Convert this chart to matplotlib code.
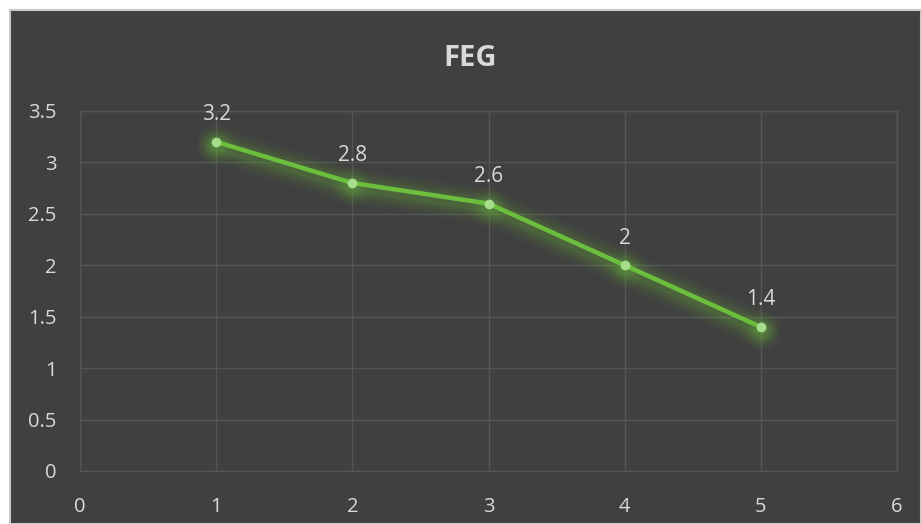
import matplotlib.pyplot as plt
import matplotlib.transforms as mtransforms
from matplotlib.patches import Rectangle

# FEG values per step
x_vals = [1, 2, 3, 4, 5]
feg = [3.2, 2.8, 2.6, 2.0, 1.4]
x_ticks = [0, 1, 2, 3, 4, 5, 6]
y_ticks = [0, 0.5, 1, 1.5, 2, 2.5, 3, 3.5]
y_tick_labels = ["0", "0.5", "1", "1.5", "2", "2.5", "3", "3.5"]
title = "FEG"

bg = "#404040"
grid_col = "#555555"
text_col = "#d9d9d9"
line_col = "#6cbf3c"
marker_col = "#a6dc8a"

plt.rcParams["font.family"] = ["Open Sans", "DejaVu Sans"]

fig = plt.figure(figsize=(9.21, 5.24), dpi=100, facecolor="white")
W, H = 921, 524
# dark chart area with thin light border
fig.add_artist(Rectangle((10 / W, 0), 1 - 10 / W, 1 - 10 / H,
                         transform=fig.transFigure, facecolor=bg,
                         edgecolor="#c8c8c8", linewidth=1.5, zorder=-10))

ax = fig.add_axes([80 / W, 1 - 471 / H, (897 - 80) / W, (471 - 111) / H])
ax.set_zorder(1)
ax.set_facecolor(bg)
ax.set_xlim(0, 6)
ax.set_ylim(0, 3.5)
ax.set_xticks(x_ticks)
ax.set_yticks(y_ticks)
ax.set_yticklabels(y_tick_labels)
ax.grid(True, color=grid_col, linewidth=1.0)
ax.set_axisbelow(True)
for s in ax.spines.values():
    s.set_color(grid_col)
    s.set_linewidth(1.0)
ax.tick_params(axis="both", length=0, colors=text_col, labelsize=14.5)
ax.tick_params(axis="x", pad=19)
ax.tick_params(axis="y", pad=17)

# soft glow under the line, shifted slightly down
shift = mtransforms.offset_copy(ax.transData, fig=fig, x=0, y=-3, units="dots")
for lw, a in [(26, 0.04), (21, 0.05), (16, 0.065), (12, 0.085), (8, 0.1)]:
    ax.plot(x_vals, feg, color=line_col, linewidth=lw, alpha=a,
            solid_capstyle="round", solid_joinstyle="round", transform=shift)
    ax.plot(x_vals, feg, linestyle="none", marker="o", markersize=lw + 3,
            color=line_col, alpha=a, markeredgewidth=0, transform=shift)

ax.plot(x_vals, feg, color=line_col, linewidth=3.2,
        solid_joinstyle="round", solid_capstyle="round")
ax.plot(x_vals, feg, linestyle="none", marker="o", markersize=6,
        markerfacecolor=marker_col, markeredgecolor=marker_col)

for xv, yv in zip(x_vals, feg):
    ax.annotate(f"{yv:g}", (xv, yv), xytext=(0, 12), textcoords="offset points",
                ha="center", va="bottom", color=text_col, fontsize=15)

fig.text(470 / W, 1 - 58 / H, title, ha="center", va="center",
         color=text_col, fontsize=21, fontweight="bold")

fig.savefig("out.png", dpi=100, facecolor="white")
